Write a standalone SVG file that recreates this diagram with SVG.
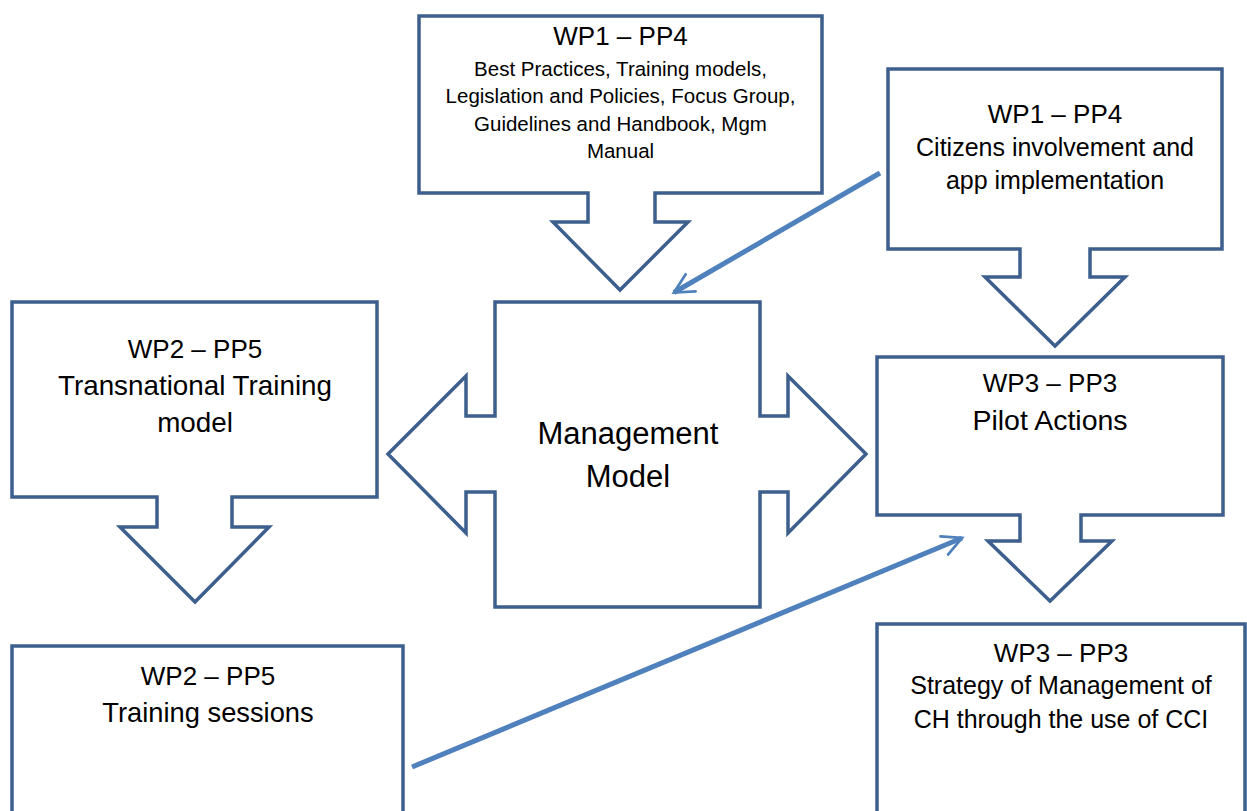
<svg xmlns="http://www.w3.org/2000/svg" width="1247" height="811" viewBox="0 0 1247 811">
<style>
.shape{fill:#ffffff;stroke:#3C5F8E;stroke-width:3.5;stroke-linejoin:miter}
text{font-family:"Liberation Sans",Arial,sans-serif;fill:#000000;text-anchor:middle}
.t26{font-size:26px}
.t25{font-size:25px}
.t27{font-size:27.3px}
.t28{font-size:28.5px}
.t20{font-size:20.5px}
.t30{font-size:31px}
.conn{fill:none;stroke:#4F81BD;stroke-width:5;stroke-linecap:butt}
</style>
<defs>
<marker id="open" viewBox="0 0 10 10" refX="8.6" refY="5" markerWidth="5.2" markerHeight="5.2" markerUnits="strokeWidth" orient="auto">
<path d="M1.2,1.2 L8.6,5 L1.2,8.8" fill="none" stroke="#4F81BD" stroke-width="1.05" stroke-linecap="round" stroke-linejoin="miter"/>
</marker>
</defs>
<rect width="1247" height="811" fill="#ffffff"/>

<g id="connectors">
<line class="conn" x1="880" y1="173" x2="674" y2="292.5" marker-end="url(#open)"/>
<line class="conn" x1="412" y1="767" x2="962" y2="538" marker-end="url(#open)"/>
</g>

<g id="wp1-top">
<polygon class="shape" points="419,16 822,16 822,193 655,193 655,222 688,222 620,290 553,222 588,222 588,193 419,193"/>
<text class="t26" x="620.5" y="45">WP1 – PP4</text>
<text class="t20" x="620.5" y="76">Best Practices, Training models,</text>
<text class="t20" x="620.5" y="103">Legislation and Policies, Focus Group,</text>
<text class="t20" x="620.5" y="131">Guidelines and Handbook, Mgm</text>
<text class="t20" x="620.5" y="158">Manual</text>
</g>

<g id="wp1-citizens">
<polygon class="shape" points="888,69 1222,69 1222,249 1090,249 1090,277 1125,277 1055,346 985,277 1020,277 1020,249 888,249"/>
<text class="t26" x="1055" y="123">WP1 – PP4</text>
<text class="t25" x="1055" y="156">Citizens involvement and</text>
<text class="t25" x="1055" y="189">app implementation</text>
</g>

<g id="management-model">
<polygon class="shape" points="495,302 760,302 760,416 788,416 788,376 866,454 788,533 788,492 760,492 760,607 495,607 495,492 466,492 466,533 388,454 466,376 466,416 495,416"/>
<text class="t30" x="628" y="444">Management</text>
<text class="t30" x="628" y="487">Model</text>
</g>

<g id="wp2-transnational">
<polygon class="shape" points="12,302 377,302 377,497 232,497 232,527 269,527 195,602 120,527 157,527 157,497 12,497"/>
<text class="t26" x="195" y="358">WP2 – PP5</text>
<text class="t28" x="195" y="395" style="font-size:27.8px">Transnational Training</text>
<text class="t28" x="195" y="432" style="font-size:27.8px">model</text>
</g>

<g id="wp2-sessions">
<rect class="shape" x="12" y="646" width="391" height="175"/>
<text class="t26" x="208" y="685">WP2 – PP5</text>
<text class="t27" x="208" y="722">Training sessions</text>
</g>

<g id="wp3-pilot">
<polygon class="shape" points="877,357 1223,357 1223,515 1081,515 1081,541 1112,541 1050,601 988,541 1020,541 1020,515 877,515"/>
<text class="t26" x="1050" y="392">WP3 – PP3</text>
<text class="t28" x="1050" y="430">Pilot Actions</text>
</g>

<g id="wp3-strategy">
<rect class="shape" x="877" y="624" width="368" height="197"/>
<text class="t26" x="1061" y="662">WP3 – PP3</text>
<text class="t25" x="1061" y="694">Strategy of Management of</text>
<text class="t25" x="1061" y="728">CH through the use of CCI</text>
</g>
</svg>
